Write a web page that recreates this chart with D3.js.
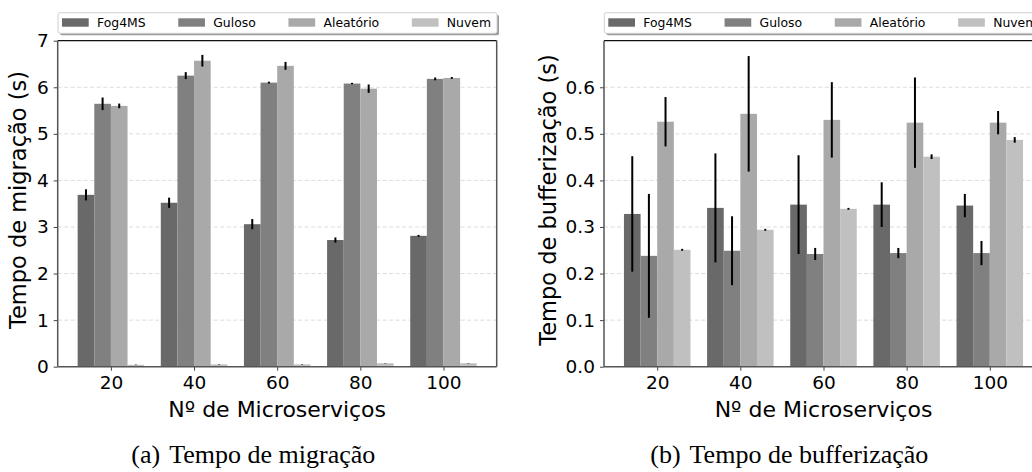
<!DOCTYPE html>
<html>
<head>
<meta charset="utf-8">
<script src="https://cdn.jsdelivr.net/npm/d3@7"></script>
<style>
  body { margin: 0; background: #fff; }
  svg { display: block; }
  text { font-family: "DejaVu Sans", sans-serif; fill: #000; }
  .caption { font-family: "Liberation Serif", "Times New Roman", serif; }
</style>
</head>
<body>
<svg id="fig" width="1032" height="472"></svg>
<script>
// categories and series
var categories = ["20", "40", "60", "80", "100"];
var seriesNames = ["Fog4MS", "Guloso", "Aleatório", "Nuvem"];
var seriesColors = ["#696969", "#808080", "#a9a9a9", "#c0c0c0"];

// (a) tempo de migração (s)
var migFog4MS = [3.69, 3.52, 3.06, 2.72, 2.81];
var migGuloso = [5.645, 6.25, 6.10, 6.08, 6.18];
var migAleatorio = [5.60, 6.57, 6.46, 5.97, 6.20];
var migNuvem = [0.04, 0.05, 0.05, 0.075, 0.075];
var migFog4MSErr = [0.12, 0.11, 0.11, 0.055, 0.02];
var migGulosoErr = [0.135, 0.075, 0.02, 0.015, 0.03];
var migAleatorioErr = [0.05, 0.125, 0.085, 0.09, 0.02];
var migNuvemErr = [0.005, 0.005, 0.005, 0.005, 0.005];
var migTicks = [0, 1, 2, 3, 4, 5, 6, 7];

// (b) tempo de bufferização (s)
var bufFog4MS = [0.328, 0.341, 0.348, 0.348, 0.346];
var bufGuloso = [0.238, 0.249, 0.242, 0.244, 0.244];
var bufAleatorio = [0.526, 0.543, 0.530, 0.524, 0.524];
var bufNuvem = [0.251, 0.294, 0.339, 0.451, 0.487];
var bufFog4MSErr = [0.124, 0.117, 0.106, 0.048, 0.025];
var bufGulosoErr = [0.133, 0.074, 0.013, 0.011, 0.026];
var bufAleatorioErr = [0.053, 0.124, 0.081, 0.097, 0.025];
var bufNuvemErr = [0.002, 0.002, 0.002, 0.005, 0.006];
var bufTicks = [0, 0.1, 0.2, 0.3, 0.4, 0.5, 0.6];

var svg = d3.select("#fig");

function drawPanel(opt) {
  var top = 40.7, bottom = 366.7;
  var left = opt.left, right = opt.left + 439;
  var barW = 0.2;

  var x = d3.scaleLinear().domain([-0.64, 4.64]).range([left, right]);
  var y = d3.scaleLinear().domain(opt.yDomain).range([bottom, top]);

  var g = svg.append("g");

  // grid
  g.selectAll(".grid").data(opt.ticks.slice(1)).enter().append("line")
    .attr("x1", left).attr("x2", right)
    .attr("y1", function(d) { return y(d); })
    .attr("y2", function(d) { return y(d); })
    .attr("stroke", "#dddddd").attr("stroke-width", 1)
    .attr("stroke-dasharray", "4,2.5");

  // bars
  opt.values.forEach(function(vals, k) {
    g.selectAll(".bar" + k).data(vals).enter().append("rect")
      .attr("x", function(d, i) { return x(i + (k - 2) * barW); })
      .attr("width", x(barW) - x(0))
      .attr("y", function(d) { return y(d); })
      .attr("height", function(d) { return y(0) - y(d); })
      .attr("fill", seriesColors[k]);
  });

  // error bars
  opt.values.forEach(function(vals, k) {
    var errs = opt.errors[k];
    g.selectAll(".err" + k).data(vals).enter().append("line")
      .attr("x1", function(d, i) { return x(i + (k - 1.5) * barW); })
      .attr("x2", function(d, i) { return x(i + (k - 1.5) * barW); })
      .attr("y1", function(d, i) { return y(d - errs[i]); })
      .attr("y2", function(d, i) { return y(d + errs[i]); })
      .attr("stroke", "#000").attr("stroke-width", 2);
  });

  // axes
  var yAxis = d3.axisLeft(y).tickValues(opt.ticks).tickFormat(opt.fmt)
    .tickSizeOuter(0).tickSizeInner(4).tickPadding(5);
  var gy = g.append("g").attr("transform", "translate(" + left + ",0)").call(yAxis);
  gy.select(".domain").remove();
  gy.selectAll("line").attr("stroke", "#444");
  gy.selectAll("text").attr("font-size", "18.5px").attr("font-family", "DejaVu Sans").attr("fill", "#000");

  var xAxis = d3.axisBottom(x).tickValues(d3.range(categories.length))
    .tickFormat(function(d) { return categories[d]; })
    .tickSizeOuter(0).tickSizeInner(4).tickPadding(5);
  var gx = g.append("g").attr("transform", "translate(0," + bottom + ")").call(xAxis);
  gx.select(".domain").remove();
  gx.selectAll("line").attr("stroke", "#444");
  gx.selectAll("text").attr("font-size", "18.5px").attr("font-family", "DejaVu Sans").attr("fill", "#000");

  // frame
  g.append("line").attr("x1", left).attr("x2", right).attr("y1", top).attr("y2", top)
    .attr("stroke", "#111").attr("stroke-width", 1.2);
  g.append("line").attr("x1", left).attr("x2", right).attr("y1", bottom).attr("y2", bottom)
    .attr("stroke", "#555").attr("stroke-width", 1.5);
  g.append("line").attr("x1", left).attr("x2", left).attr("y1", top).attr("y2", bottom)
    .attr("stroke", "#555").attr("stroke-width", 1.5);
  g.append("line").attr("x1", right).attr("x2", right).attr("y1", top).attr("y2", bottom)
    .attr("stroke", "#555").attr("stroke-width", 1.5);

  // axis labels
  g.append("text").attr("x", (left + right) / 2).attr("y", 417)
    .attr("text-anchor", "middle").attr("font-size", "22px").text("Nº de Microserviços");
  g.append("text")
    .attr("transform", "translate(" + (left - opt.ylabOff) + "," + 200 + ") rotate(-90)")
    .attr("text-anchor", "middle").attr("dy", "0.35em").attr("font-size", "22.5px")
    .text(opt.ylabel);

  // legend
  var lg = g.append("g");
  var boxX = left + 0.3, boxY = 12.7, boxW = 439, boxH = 20.6;
  lg.append("rect").attr("x", boxX + 2).attr("y", boxY + 2).attr("width", boxW).attr("height", boxH)
    .attr("rx", 2).attr("fill", "#9a9a9a");
  lg.append("rect").attr("x", boxX).attr("y", boxY).attr("width", boxW).attr("height", boxH)
    .attr("rx", 2).attr("fill", "#fff").attr("stroke", "#d0d0d0").attr("stroke-width", 1);
  var items = lg.selectAll(".item").data(seriesNames).enter().append("g");
  items.append("rect").attr("width", 26.7).attr("height", 8.4).attr("y", 18.3)
    .attr("fill", function(d, i) { return seriesColors[i]; });
  items.append("text").attr("x", 35).attr("y", 26.8).attr("font-size", "12.4px")
    .text(function(d) { return d; });
  var widths = [];
  items.each(function() { widths.push(35 + d3.select(this).select("text").node().getComputedTextLength()); });
  var innerL = boxX + 4, innerR = boxX + boxW - 6;
  var gap = (innerR - innerL - d3.sum(widths)) / (widths.length - 1);
  var pos = innerL;
  items.each(function(d, i) {
    d3.select(this).attr("transform", "translate(" + pos + ",0)");
    pos += widths[i] + gap;
  });

  // caption
  var cap = svg.append("text").attr("class", "caption").attr("x", opt.capX).attr("y", 463.3)
    .attr("text-anchor", "middle").attr("font-size", "26px");
  cap.append("tspan").text(opt.capTag);
  cap.append("tspan").attr("dx", 9).text(opt.capText);
}

drawPanel({
  left: 57.7,
  yDomain: [0, 7],
  ticks: migTicks,
  fmt: d3.format("d"),
  values: [migFog4MS, migGuloso, migAleatorio, migNuvem],
  errors: [migFog4MSErr, migGulosoErr, migAleatorioErr, migNuvemErr],
  ylabel: "Tempo de migração (s)",
  ylabOff: 39.5,
  capX: 253.3, capTag: "(a)", capText: "Tempo de migração"
});

drawPanel({
  left: 604,
  yDomain: [0, 0.7],
  ticks: bufTicks,
  fmt: d3.format(".1f"),
  values: [bufFog4MS, bufGuloso, bufAleatorio, bufNuvem],
  errors: [bufFog4MSErr, bufGulosoErr, bufAleatorioErr, bufNuvemErr],
  ylabel: "Tempo de bufferização (s)",
  ylabOff: 56,
  capX: 789.3, capTag: "(b)", capText: "Tempo de bufferização"
});
</script>
</body>
</html>
